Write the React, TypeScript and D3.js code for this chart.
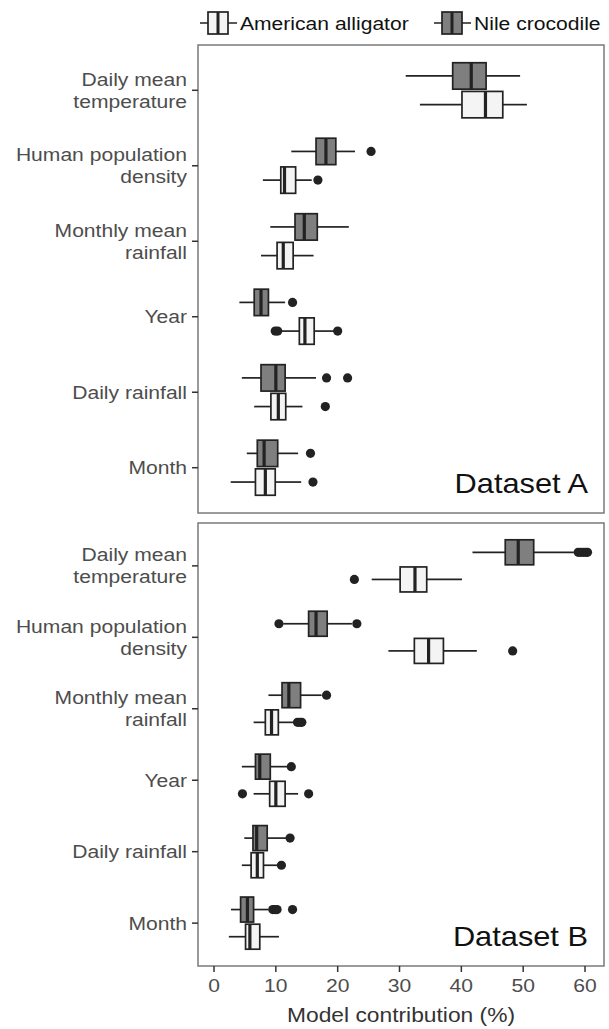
import React from "react";
import * as d3 from "d3";

// categories, top to bottom
const categories = [
  "Daily mean temperature",
  "Human population density",
  "Monthly mean rainfall",
  "Year",
  "Daily rainfall",
  "Month",
];
const labelLines = [
  ["Daily mean", "temperature"],
  ["Human population", "density"],
  ["Monthly mean", "rainfall"],
  ["Year"],
  ["Daily rainfall"],
  ["Month"],
];

// [whisker low, q1, median, q3, whisker high]
const alligatorA = [
  [33.3, 40.1, 43.9, 46.7, 50.6],
  [7.9, 10.8, 11.4, 13.2, 15.8],
  [7.6, 10.2, 11.2, 12.8, 16.1],
  [10.6, 13.8, 14.7, 16.2, 19.4],
  [6.5, 9.2, 10.4, 11.6, 14.3],
  [2.7, 6.7, 8.3, 9.9, 14.1],
];
const alligatorAOut = [[], [16.8], [], [9.9, 10.3, 20.0], [18.0], [16.0]];
const crocodileA = [
  [31.0, 38.6, 41.6, 44.0, 49.5],
  [12.5, 16.5, 18.1, 19.7, 22.8],
  [9.1, 13.1, 14.6, 16.7, 21.8],
  [4.1, 6.5, 7.6, 8.8, 11.5],
  [4.5, 7.6, 10.0, 11.5, 16.5],
  [5.3, 7.0, 8.1, 10.3, 13.6],
];
const crocodileAOut = [[], [25.4], [], [12.7], [18.2, 21.6], [15.6]];

const alligatorB = [
  [25.5, 30.1, 32.5, 34.4, 40.1],
  [28.2, 32.4, 34.7, 37.1, 42.5],
  [6.4, 8.3, 9.3, 10.4, 12.8],
  [6.4, 9.0, 10.0, 11.5, 13.6],
  [4.5, 6.0, 7.0, 8.0, 10.2],
  [2.4, 5.1, 5.8, 7.4, 10.5],
];
const alligatorBOut = [[22.7], [48.3], [13.5, 13.9, 14.2], [4.6, 15.3], [10.9], []];
const crocodileB = [
  [41.8, 47.1, 49.2, 51.7, 58.2],
  [11.2, 15.3, 16.5, 18.3, 22.3],
  [8.8, 11.0, 12.1, 14.0, 17.4],
  [4.5, 6.7, 7.4, 9.1, 11.8],
  [4.9, 6.3, 6.9, 8.6, 11.8],
  [2.75, 4.3, 5.4, 6.4, 8.8],
];
const crocodileBOut = [
  [58.9, 59.3, 59.7, 60.1, 60.4],
  [10.5, 23.1],
  [18.2],
  [12.5],
  [12.3],
  [9.5, 9.9, 10.2, 12.7],
];

const xTicks = [0, 10, 20, 30, 40, 50, 60];
const species = ["American alligator", "Nile crocodile"];

const W = 609;
const H = 1029;
const FONT = "'Liberation Sans', Arial, Helvetica, sans-serif";
const STRETCH = 1.14; // the original figure is a bit wider than tall
const left = 198;
const right = 604;
const fillAlligator = "#f4f4f4";
const fillCrocodile = "#7f7f7f";
const ink = "#222";
const axisGrey = "#4d4d4d";

const x = d3.scaleLinear().domain([-2.59, 63.07]).range([left, right]);

type Stat = number[];

function Txt({ x, y, size, fill, anchor = "start", children }: any) {
  return (
    <text
      transform={`translate(${x},${y}) scale(${STRETCH},1)`}
      textAnchor={anchor}
      fontSize={size}
      fill={fill}
      fontFamily={FONT}
    >
      {children}
    </text>
  );
}

function Box({ s, out, cy, h, fill }: { s: Stat; out: number[]; cy: number; h: number; fill: string }) {
  const [lo, q1, med, q3, hi] = s;
  return (
    <g>
      <line x1={x(lo)} x2={x(q1)} y1={cy} y2={cy} stroke={ink} strokeWidth={1.7} />
      <line x1={x(q3)} x2={x(hi)} y1={cy} y2={cy} stroke={ink} strokeWidth={1.7} />
      <rect x={x(q1)} y={cy - h / 2} width={x(q3) - x(q1)} height={h} fill={fill} stroke={ink} strokeWidth={1.7} />
      <line x1={x(med)} x2={x(med)} y1={cy - h / 2} y2={cy + h / 2} stroke={ink} strokeWidth={3.2} />
      {out.map((o, i) => (
        <circle key={i} cx={x(o)} cy={cy} r={4.6} fill={ink} />
      ))}
    </g>
  );
}

function Panel({
  top,
  bottom,
  alli,
  alliOut,
  croc,
  crocOut,
  title,
}: {
  top: number;
  bottom: number;
  alli: Stat[];
  alliOut: number[][];
  croc: Stat[];
  crocOut: number[][];
  title: string;
}) {
  const y = d3.scalePoint<string>().domain(categories).range([top, bottom]).padding(0.6);
  const step = y.step();
  const off = 0.19 * step;
  const bh = 0.35 * step;
  return (
    <g>
      <rect x={left} y={top} width={right - left} height={bottom - top} fill="white" stroke="#7a7a7a" strokeWidth={1.5} />
      {categories.map((c, i) => {
        const cy = y(c) as number;
        const lines = labelLines[i];
        const lh = 22;
        const y0 = cy - ((lines.length - 1) * lh) / 2 + 6.5;
        return (
          <g key={c}>
            <line x1={left - 6} x2={left} y1={cy} y2={cy} stroke="#333" strokeWidth={1.5} />
            {lines.map((l, j) => (
              <Txt key={j} x={187} y={y0 + j * lh} size={18.5} fill={axisGrey} anchor="end">
                {l}
              </Txt>
            ))}
            <Box s={croc[i]} out={crocOut[i]} cy={cy - off} h={bh} fill={fillCrocodile} />
            <Box s={alli[i]} out={alliOut[i]} cy={cy + off} h={bh} fill={fillAlligator} />
          </g>
        );
      })}
      <Txt x={588} y={bottom - 20} size={27} fill="#111" anchor="end">
        {title}
      </Txt>
    </g>
  );
}

function LegendKey({ x0, fill, label }: { x0: number; fill: string; label: string }) {
  const cy = 23;
  return (
    <g>
      <line x1={x0} x2={x0 + 37} y1={cy} y2={cy} stroke={ink} strokeWidth={1.7} />
      <rect x={x0 + 8} y={cy - 11} width={20} height={22} fill={fill} stroke={ink} strokeWidth={1.7} />
      <line x1={x0 + 18} x2={x0 + 18} y1={cy - 11} y2={cy + 11} stroke={ink} strokeWidth={3} />
      <Txt x={x0 + 40} y={cy + 6.5} size={18.5} fill="#111">
        {label}
      </Txt>
    </g>
  );
}

export default function App() {
  const axisY = 966;
  return (
    <div style={{ position: "absolute", left: 0, top: 0 }}>
      <svg width={W} height={H} style={{ display: "block", background: "white" }}>
        <LegendKey x0={200} fill={fillAlligator} label={species[0]} />
        <LegendKey x0={434} fill={fillCrocodile} label={species[1]} />
        <Panel top={45} bottom={513} alli={alligatorA} alliOut={alligatorAOut} croc={crocodileA} crocOut={crocodileAOut} title="Dataset A" />
        <Panel top={523} bottom={966} alli={alligatorB} alliOut={alligatorBOut} croc={crocodileB} crocOut={crocodileBOut} title="Dataset B" />
        {xTicks.map((t) => (
          <g key={t}>
            <line x1={x(t)} x2={x(t)} y1={axisY} y2={axisY + 6} stroke="#333" strokeWidth={1.5} />
            <Txt x={x(t)} y={992} size={18.5} fill={axisGrey} anchor="middle">
              {t}
            </Txt>
          </g>
        ))}
        <Txt x={(left + right) / 2} y={1022} size={20} fill="#333" anchor="middle">
          Model contribution (%)
        </Txt>
      </svg>
    </div>
  );
}
